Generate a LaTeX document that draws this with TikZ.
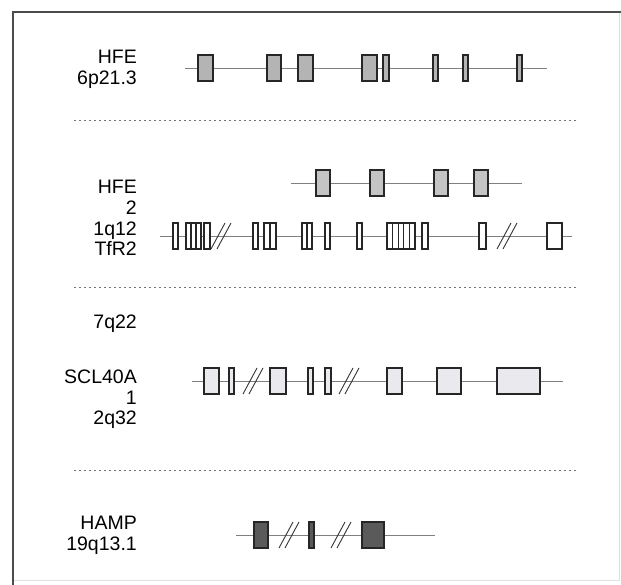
\documentclass[tikz,border=0pt]{standalone}
\usepackage{fontspec}
\setmainfont{Liberation Sans}
\usepackage{xcolor}
\usetikzlibrary{positioning}

\definecolor{hfegray}{HTML}{B4B4B4}
\definecolor{hfelight}{HTML}{C4C4C4}
\definecolor{slcfill}{HTML}{E9E9EE}
\definecolor{hampdark}{HTML}{5A5A5A}

% two slanted strokes marking an intron break
\newcommand\genebreak[2]{%
  \draw[brk] (#1,#2+13) -- ++(14,-26);
  \draw[brk] (#1+6,#2+13) -- ++(14,-26);}

\begin{document}
\begin{tikzpicture}[
  x=1pt, y=-1pt,
  lbl/.style={anchor=base east, inner sep=0pt, font=\fontsize{19.5}{21}\selectfont},
  intron/.style={draw=black!50, line width=0.9pt},
  exon/.style={draw=black!85, line width=1.1pt},
  brk/.style={draw=black!80, line width=0.9pt},
  sep/.style={draw=black!55, line width=1pt, dash pattern=on 2pt off 3pt},
]
\useasboundingbox (0,0) rectangle (621,585);

% frame
\draw[black!12, line width=0.6pt] (619,12) -- (619,580) -- (13,580);
\draw[black!70, line width=1.2pt] (13,585) -- (13,12) -- (621,12);

% HFE on 6p21.3
\node[lbl] (hfe) at (137,64) {HFE};
\node[lbl] (hfeloc) at (137,85) {6p21.3};
\draw[intron] (185,68) -- (547,68);
\foreach \a/\b in {198/213, 267/281, 298/313, 362/377, 383/389, 433/438, 463/468, 517/522}
  \draw[exon, fill=hfegray] (\a,55) rectangle (\b,81);

\draw[sep] (74,121) -- (578,121);

% HFE 2 and TfR2 on 1q12 / 7q22
\node[lbl] (hfetwo) at (137,194) {HFE};
\node[lbl] (hfetwob) at (137,215) {2};
\node[lbl] (tfrloc) at (137,236) {1q12};
\node[lbl] (tfr) at (137,256) {TfR2};
\draw[intron] (291,183) -- (522,183);
\foreach \a/\b in {316/330, 370/384, 434/448, 474/488}
  \draw[exon, fill=hfelight] (\a,170) rectangle (\b,196);

\draw[intron] (160,236) -- (572,236);
\foreach \a/\b in {173/178, 186/191, 191/196, 196/201, 204/210, 253/258, 264/270, 270/276,
                   302/307, 307/312, 325/330, 357/362, 387/392.6, 392.6/398.2, 398.2/403.8,
                   403.8/409.4, 409.4/415, 422/428, 479/486, 547/562}
  \draw[exon, fill=white] (\a,223) rectangle (\b,249);
\genebreak{211}{236}
\genebreak{497}{236}

\draw[sep] (74,288) -- (578,288);

% SCL40A 1 on 2q32
\node[lbl] (tfrloctwo) at (137,328) {7q22};
\node[lbl] (slc) at (137,383) {SCL40A};
\node[lbl] (slcb) at (137,404) {1};
\node[lbl] (slcloc) at (137,424) {2q32};
\draw[intron] (192,381) -- (563,381);
\foreach \a/\b in {204/219, 229/234, 270/286, 308/313, 325/331, 387/402, 437/461, 497/540}
  \draw[exon, fill=slcfill] (\a,368) rectangle (\b,394);
\genebreak{243}{381}
\genebreak{339}{381}

\draw[sep] (74,470) -- (578,470);

% HAMP on 19q13.1
\node[lbl] (hamp) at (137,529) {HAMP};
\node[lbl] (hamploc) at (137,550) {19q13.1};
\draw[intron] (236,535) -- (435,535);
\foreach \a/\b in {254/268, 309/314, 362/384}
  \draw[exon, fill=hampdark] (\a,522) rectangle (\b,548);
\genebreak{279}{535}
\genebreak{331}{535}

\end{tikzpicture}
\end{document}
